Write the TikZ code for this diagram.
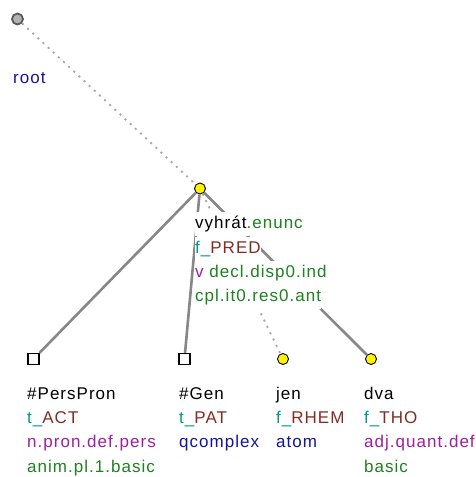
\documentclass[tikz,border=0pt]{standalone}
\usepackage{fontspec}
\setmainfont{Liberation Sans}
\newfontfamily\treefont[LetterSpace=6]{Liberation Sans}
\usepackage{xcolor}
\definecolor{tblue}{RGB}{20,20,160}
\definecolor{tteal}{RGB}{0,150,150}
\definecolor{tbrown}{RGB}{130,45,35}
\definecolor{tpurple}{RGB}{160,30,160}
\definecolor{tgreen}{RGB}{30,130,30}
\definecolor{tedge}{RGB}{135,135,135}
\usetikzlibrary{positioning}

\begin{document}
\begin{tikzpicture}[
    x=1pt, y=-1pt,
    tnode/.style={circle, draw=black, line width=0.9pt, fill=#1,
                  minimum size=11pt, inner sep=0pt},
    tnode/.default={yellow},
    gnode/.style={rectangle, draw=black, line width=1.1pt, fill=white,
                  minimum size=11pt, inner sep=0pt},
    rootnode/.style={circle, draw=black!65, line width=1.8pt, fill=black!30,
                     minimum size=11pt, inner sep=0pt},
    edge/.style={tedge, line width=2.6pt},
    dotedge/.style={black!35, line width=1.8pt, dash pattern=on 2pt off 5pt},
    lbl/.style={font=\treefont\fontsize{17}{20}\selectfont, anchor=base west,
                inner xsep=0pt, inner ysep=0.5pt, text height=16pt, text depth=7pt,
                fill=white}
]
\useasboundingbox (0,0) rectangle (476,477);

% --- tree nodes ---
\node[rootnode] (root) at (17.5,19) {};
\node[tnode] (vyhrat) at (200,188.5) {};
\node[gnode] (perspron) at (33.5,359) {};
\node[gnode] (gen) at (184.5,359) {};
\node[tnode] (jen) at (283,359) {};
\node[tnode] (dva) at (371,359) {};

% --- edges ---
\draw[dotedge] (root) -- (vyhrat);
\draw[edge] (vyhrat) -- (perspron);
\draw[edge] (vyhrat) -- (gen);
\draw[dotedge] (vyhrat) -- (jen);
\draw[edge] (vyhrat) -- (dva);

% --- root label ---
\node[lbl, text=tblue] (root-1) at (13,83) {root};

% --- vyhrat labels ---
\node[lbl] (vyhrat-1) at (195,228.5) {vyhrát\textcolor{tgreen}{.enunc}};
\node[lbl] (vyhrat-2) at (195,253) {\textcolor{tteal}{f\_}\textcolor{tbrown}{PRED}};
\node[lbl] (vyhrat-3) at (195,277) {\textcolor{tpurple}{v}\ \textcolor{tgreen}{decl.disp0.ind}};
\node[lbl, text=tgreen] (vyhrat-4) at (195,301.5) {cpl.it0.res0.ant};

% --- perspron labels ---
\node[lbl] (perspron-1) at (27,399.5) {\#PersPron};
\node[lbl] (perspron-2) at (27,423.5) {\textcolor{tteal}{t\_}\textcolor{tbrown}{ACT}};
\node[lbl, text=tpurple] (perspron-3) at (27,447.5) {n.pron.def.pers};
\node[lbl, text=tgreen] (perspron-4) at (27,472) {anim.pl.1.basic};

% --- gen labels ---
\node[lbl] (gen-1) at (179,399.5) {\#Gen};
\node[lbl] (gen-2) at (179,423.5) {\textcolor{tteal}{t\_}\textcolor{tbrown}{PAT}};
\node[lbl, text=tblue] (gen-3) at (179,447.5) {qcomplex};

% --- jen labels ---
\node[lbl] (jen-1) at (276,399.5) {jen};
\node[lbl] (jen-2) at (276,423.5) {\textcolor{tteal}{f\_}\textcolor{tbrown}{RHEM}};
\node[lbl, text=tblue] (jen-3) at (276,447.5) {atom};

% --- dva labels ---
\node[lbl] (dva-1) at (364,399.5) {dva};
\node[lbl] (dva-2) at (364,423.5) {\textcolor{tteal}{f\_}\textcolor{tbrown}{THO}};
\node[lbl, text=tpurple] (dva-3) at (364,447.5) {adj.quant.def};
\node[lbl, text=tgreen] (dva-4) at (364,472) {basic};

\end{tikzpicture}
\end{document}
